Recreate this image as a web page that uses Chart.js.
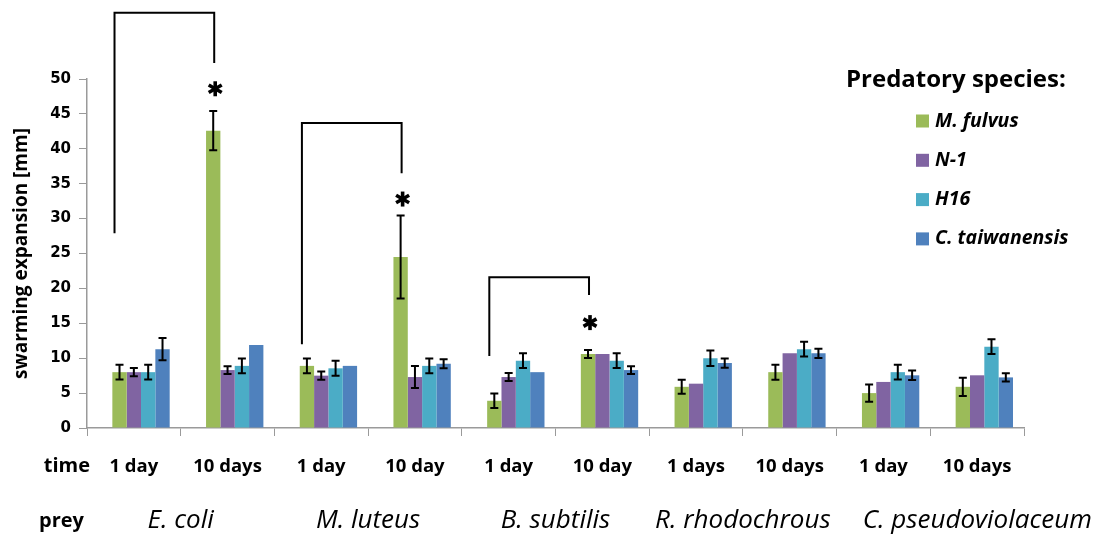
<!DOCTYPE html>
<html>
<head>
<meta charset="utf-8">
<script src="https://cdn.jsdelivr.net/npm/chart.js@4/dist/chart.umd.min.js"></script>
<style>
  html, body { margin: 0; padding: 0; background: #fff; }
  #wrap { width: 1102px; height: 537px; }
</style>
</head>
<body>
<div id="wrap"><canvas id="mychart" width="1102" height="537"></canvas></div>
<script>
// categories on the x axis (time) and the prey pairs below them
const timeLabels = ['1 day', '10 days', '1 day', '10 day', '1 day', '10 day', '1 days', '10 days', '1 day', '10 days'];
const preyNames = ['E. coli', 'M. luteus', 'B. subtilis', 'R. rhodochrous', 'C. pseudoviolaceum'];
const speciesNames = ['M. fulvus', 'N-1', 'H16', 'C. taiwanensis'];
const speciesColors = ['#9BBB59', '#8064A2', '#4BACC6', '#4F81BD'];

// swarming expansion [mm] and error (null = no error bar)
const mFulvus    = [8.0, 42.6, 8.9, 24.5, 3.9, 10.6, 5.9, 8.0, 5.0, 5.9];
const mFulvusErr = [1.05, 2.8, 1.07, 5.95, 1.05, 0.57, 1.0, 1.07, 1.24, 1.3];
const n1         = [8.0, 8.3, 7.5, 7.3, 7.3, 10.6, 6.35, 10.7, 6.6, 7.55];
const n1Err      = [0.6, 0.55, 0.6, 1.57, 0.57, null, null, null, null, null];
const h16        = [8.0, 8.9, 8.55, 8.9, 9.65, 9.65, 10.0, 11.3, 8.0, 11.65];
const h16Err     = [1.05, 1.07, 1.07, 1.07, 1.05, 1.05, 1.1, 1.07, 1.05, 1.05];
const cTaiw      = [11.3, 11.9, 8.9, 9.2, 8.0, 8.3, 9.3, 10.7, 7.55, 7.25];
const cTaiwErr   = [1.6, null, null, 0.64, null, 0.55, 0.67, 0.67, 0.67, 0.6];

const yTicks = [0, 5, 10, 15, 20, 25, 30, 35, 40, 45, 50];

// significance brackets (category index and y values in mm)
const bracketFrom     = [0, 2, 4];
const bracketTo       = [1, 3, 5];
const bracketLeftLow  = [27.9, 12.0, 10.3];
const bracketTop      = [59.5, 43.7, 21.6];
const bracketRightLow = [52.3, 36.5, 19.05];
const starValue       = [48.6, 32.8, 15.1];

const allValues = [mFulvus, n1, h16, cTaiw];
const allErrors = [mFulvusErr, n1Err, h16Err, cTaiwErr];

const datasets = [{ label: '', data: timeLabels.map(() => null), backgroundColor: 'rgba(0,0,0,0)' }];
for (let s = 0; s < speciesNames.length; s++) {
  datasets.push({
    label: speciesNames[s],
    data: allValues[s],
    errors: allErrors[s],
    backgroundColor: speciesColors[s],
    borderWidth: 0
  });
}

// error bars, brackets, asterisks, legend and prey row
const extras = {
  id: 'extras',
  afterDatasetsDraw(chart) {
    const g = chart.ctx;
    const y = chart.scales.y;
    const x = chart.scales.x;
    g.save();
    g.strokeStyle = '#000';
    g.lineWidth = 2;
    for (let d = 1; d < chart.data.datasets.length; d++) {
      const ds = chart.data.datasets[d];
      const meta = chart.getDatasetMeta(d);
      meta.data.forEach((bar, i) => {
        const e = ds.errors[i];
        if (e == null) return;
        const v = ds.data[i];
        const top = y.getPixelForValue(v + e);
        const bot = y.getPixelForValue(v - e);
        g.beginPath();
        g.moveTo(bar.x, top); g.lineTo(bar.x, bot);
        g.moveTo(bar.x - 4, top); g.lineTo(bar.x + 4, top);
        g.moveTo(bar.x - 4, bot); g.lineTo(bar.x + 4, bot);
        g.stroke();
      });
    }

    const green = chart.getDatasetMeta(1).data;
    for (let b = 0; b < bracketFrom.length; b++) {
      const lx = green[bracketFrom[b]].x - 5;
      const rx = green[bracketTo[b]].x + 1;
      g.beginPath();
      g.moveTo(lx, y.getPixelForValue(bracketLeftLow[b]));
      g.lineTo(lx, y.getPixelForValue(bracketTop[b]));
      g.lineTo(rx, y.getPixelForValue(bracketTop[b]));
      g.lineTo(rx, y.getPixelForValue(bracketRightLow[b]));
      g.stroke();

      // asterisk
      const cx = green[bracketTo[b]].x + 2;
      const cy = y.getPixelForValue(starValue[b]);
      g.lineWidth = 3.6;
      for (let k = 0; k < 3; k++) {
        const a = Math.PI / 2 + k * Math.PI / 3;
        g.beginPath();
        g.moveTo(cx - 7.5 * Math.cos(a), cy - 7.5 * Math.sin(a));
        g.lineTo(cx + 7.5 * Math.cos(a), cy + 7.5 * Math.sin(a));
        g.stroke();
      }
      g.lineWidth = 2;
    }

    // legend
    g.fillStyle = '#000';
    g.textBaseline = 'middle';
    g.textAlign = 'left';
    g.font = 'bold 24px "Open Sans"';
    g.fillText('Predatory species:', 846, 80);
    g.font = 'italic bold 19.5px "Open Sans"';
    for (let s = 0; s < speciesNames.length; s++) {
      const ly = 121 + s * 39.3;
      g.fillStyle = speciesColors[s];
      g.fillRect(916, ly - 6.5, 13, 13);
      g.fillStyle = '#000';
      g.fillText(speciesNames[s], 935, ly);
    }

    // row captions and prey names
    g.font = 'bold 20px "Open Sans"';
    g.textAlign = 'right';
    g.fillText('time', 90, 466);
    g.fillText('prey', 84, 521);
    g.font = 'italic 26px "Open Sans"';
    g.textAlign = 'left';
    let lastRight = -1000;
    for (let p = 0; p < preyNames.length; p++) {
      const px = (x.getPixelForValue(2 * p) + x.getPixelForValue(2 * p + 1)) / 2;
      const w = g.measureText(preyNames[p]).width;
      // centre under the pair, but keep a gap to the previous name
      const left = Math.max(px - w / 2, lastRight + 32);
      g.fillText(preyNames[p], left, 521);
      lastRight = left + w;
    }
    g.restore();
  }
};

const ctx = document.getElementById('mychart');

new Chart(ctx, {
  type: 'bar',
  data: { labels: timeLabels, datasets: datasets },
  plugins: [extras],
  options: {
    responsive: false,
    animation: false,
    layout: { padding: { top: 79, right: 78, left: 0, bottom: 0 } },
    datasets: { bar: { categoryPercentage: 0.765, barPercentage: 1.0 } },
    plugins: { legend: { display: false }, tooltip: { enabled: false } },
    scales: {
      x: {
        grid: { offset: true, drawOnChartArea: false, tickLength: 8, color: '#9a9a9a' },
        border: { color: '#9a9a9a', width: 1.5 },
        ticks: { color: '#000', font: { family: 'Open Sans', weight: 'bold', size: 18.5 }, padding: 20, maxRotation: 0, autoSkip: false },
        afterFit(scale) { scale.height = 109; }
      },
      y: {
        min: 0,
        max: 50,
        afterBuildTicks(scale) { scale.ticks = yTicks.map(v => ({ value: v })); },
        grid: { drawOnChartArea: false, tickLength: 8, color: '#9a9a9a' },
        border: { color: '#9a9a9a', width: 1.5 },
        ticks: { color: '#000', font: { family: 'DejaVu Sans', weight: 'bold', size: 15 }, padding: 8 },
        title: { display: true, text: 'swarming expansion [mm]', color: '#000', font: { family: 'Open Sans', weight: 'bold', size: 19 }, padding: { top: 10 } },
        afterFit(scale) { scale.width = 87; }
      }
    }
  }
});
</script>
</body>
</html>
